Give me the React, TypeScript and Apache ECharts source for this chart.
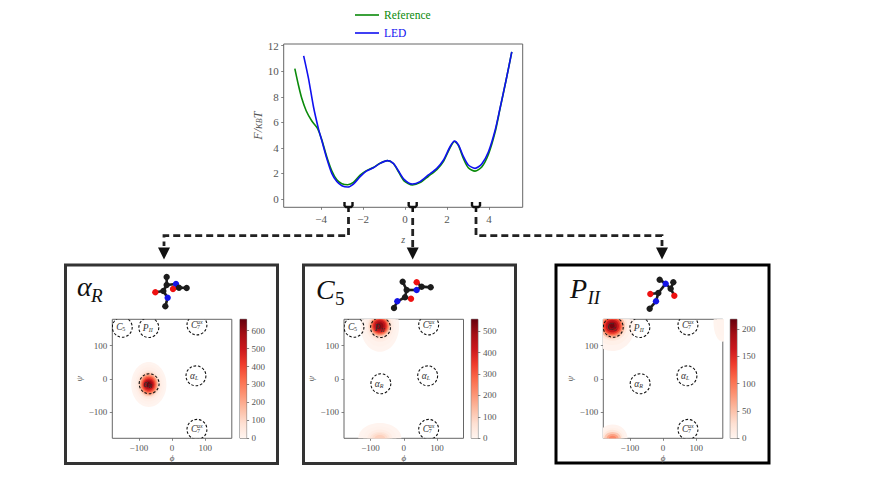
import React, { useEffect, useRef } from "react";
import * as echarts from "echarts";

// ---------- free-energy profile ----------
const referenceCurve = [
  [-5.25, 10.2], [-5.08, 8.92], [-4.92, 7.88], [-4.71, 6.91], [-4.44, 6.1], [-4.17, 5.53], [-3.97, 4.65],
  [-3.73, 3.31], [-3.49, 2.21], [-3.25, 1.5], [-3.01, 1.2], [-2.73, 1.12], [-2.46, 1.3], [-2.14, 1.87],
  [-1.86, 2.2], [-1.51, 2.47], [-1.19, 2.8], [-0.84, 3.0], [-0.56, 2.78], [-0.32, 2.15], [-0.05, 1.42],
  [0.35, 1.1], [0.71, 1.28], [1.11, 1.78], [1.51, 2.3], [1.83, 2.95], [2.14, 4.0], [2.35, 4.5],
  [2.54, 4.18], [2.78, 3.15], [3.01, 2.44], [3.33, 2.18], [3.65, 2.5], [3.97, 3.5], [4.29, 5.25],
  [4.52, 7.05], [4.81, 9.31], [5.08, 11.52],
];
const ledCurve = [
  [-4.83, 11.2], [-4.6, 9.44], [-4.36, 7.2], [-4.13, 5.53], [-3.97, 4.6], [-3.73, 3.18], [-3.49, 2.0],
  [-3.25, 1.36], [-3.01, 1.04], [-2.73, 0.94], [-2.46, 1.17], [-2.14, 1.75], [-1.86, 2.16], [-1.51, 2.45],
  [-1.19, 2.79], [-0.84, 3.0], [-0.56, 2.79], [-0.32, 2.21], [-0.05, 1.54], [0.35, 1.17], [0.71, 1.36],
  [1.11, 1.88], [1.51, 2.4], [1.83, 3.05], [2.14, 4.09], [2.35, 4.54], [2.54, 4.23], [2.78, 3.31],
  [3.01, 2.66], [3.33, 2.4], [3.65, 2.74], [3.97, 3.7], [4.29, 5.4], [4.52, 7.1], [4.81, 9.31], [5.08, 11.52],
];
const zTicks = [-4, -2, 0, 2, 4];
const fTicks = [0, 2, 4, 6, 8, 10, 12];
const angleTicks = [-100, 0, 100];

// ---------- Ramachandran densities: [value, half-width phi, half-width psi] ----------
const alphaRCenter = [-70, -17];
const alphaRLevels = [[4, 53, 68], [10, 47, 60], [22, 41, 52], [45, 36, 44], [85, 32, 39], [140, 29, 35], [220, 26, 31], [300, 23, 27], [380, 20, 23], [460, 17, 19], [540, 14, 15], [600, 10, 11], [645, 6, 7]];
const c5MainCenter = [-72, 160];
const c5MainLevels = [[3, 58, 78], [10, 50, 62], [25, 42, 48], [60, 36, 40], [110, 32, 33], [180, 29, 29], [250, 26, 26], [320, 23, 23], [390, 20, 20], [450, 16, 16], [510, 11, 11]];
const c5WrapCenter = [-72, -180];
const c5WrapLevels = [[3, 65, 46], [10, 50, 36], [25, 38, 27], [50, 30, 20], [75, 23, 15], [100, 16, 10]];
const p2MainCenter = [-153, 160];
const p2MainLevels = [[2, 68, 76], [7, 56, 58], [20, 45, 45], [50, 38, 38], [80, 33, 32], [110, 29, 28], [140, 25, 24], [170, 20, 19], [195, 14, 13], [212, 7, 7]];
const p2WrapCenter = [-152, -180];
const p2WrapLevels = [[2, 45, 42], [7, 36, 32], [20, 30, 26], [45, 25, 19], [70, 18, 13], [90, 11, 8]];
const p2EdgeCenter = [180, 170];
const p2EdgeLevels = [[1.5, 28, 58], [3, 18, 40]];

const alphaRMax = 663;
const c5Max = 556;
const p2Max = 218;
const alphaRBarTicks = [0, 100, 200, 300, 400, 500, 600];
const c5BarTicks = [0, 100, 200, 300, 400, 500];
const p2BarTicks = [0, 50, 100, 150, 200];

// basins: [phi, psi, letter, subscript, superscript]
const basins: [number, number, string, string, string][] = [
  [-150, 156, "C", "5", ""],
  [-70, 155, "P", "II", ""],
  [75, 163, "C", "7", "ax"],
  [72, 9, "α", "L", ""],
  [-69, -15, "α", "R", ""],
  [75, -153, "C", "7", "ax"],
];

// ---------- styling ----------
const SERIF = '"Liberation Serif", "DejaVu Serif", serif';
const REDS = ["#fff5f0", "#fee0d2", "#fcbba1", "#fc9272", "#fb6a4a", "#ef3b2c", "#cb181d", "#a50f15", "#67000d"];
const TICK = "#555";
const SPINE = "#666";

function hex(c: string) {
  return [1, 3, 5].map((i) => parseInt(c.slice(i, i + 2), 16));
}
function reds(t: number) {
  const p = Math.max(0, Math.min(1, t)) * (REDS.length - 1);
  const i = Math.min(REDS.length - 2, Math.floor(p));
  const a = hex(REDS[i]);
  const b = hex(REDS[i + 1]);
  const f = p - i;
  return `rgb(${a.map((v, k) => Math.round(v + (b[k] - v) * f)).join(",")})`;
}
const minus = (v: number | string) => String(v).replace("-", "\u2212");

function blobData(center: number[], levels: number[][]) {
  return levels.map((l) => [center[0], center[1], l[1], l[2], l[0]]);
}

function valueAxis(grid: number, ticks: number[] | null, min: number, max: number, extra: any = {}) {
  return {
    type: "value",
    gridIndex: grid,
    min,
    max,
    splitLine: { show: false },
    axisLine: { show: false, onZero: false },
    axisTick: ticks ? { show: true, length: 2.5, customValues: ticks, lineStyle: { color: SPINE, width: 0.8 } } : { show: false },
    axisLabel: ticks
      ? { show: true, customValues: ticks, formatter: minus, color: TICK, fontFamily: SERIF, fontSize: extra.labelSize ?? 9, margin: extra.labelMargin ?? 5 }
      : { show: false },
  };
}

const panels = [
  { left: 112.3, barLeft: 240, barMax: alphaRMax, barTicks: alphaRBarTicks, blobs: [blobData(alphaRCenter, alphaRLevels)] },
  { left: 344, barLeft: 471.3, barMax: c5Max, barTicks: c5BarTicks, blobs: [blobData(c5WrapCenter, c5WrapLevels), blobData(c5MainCenter, c5MainLevels)] },
  { left: 603.3, barLeft: 730.3, barMax: p2Max, barTicks: p2BarTicks, blobs: [blobData(p2EdgeCenter, p2EdgeLevels), blobData(p2WrapCenter, p2WrapLevels), blobData(p2MainCenter, p2MainLevels)] },
];
const HEAT_TOP = 319.3;
const HEAT_H = 119;
const HEAT_W = 119.5;
const BAR_W = 6.6;

// ---------- decoration drawn by hand: molecules, frames, connectors ----------
type Atom = [number, number, string];
const K = "#1c1c1c";
const R = "#ee1111";
const B = "#1414e6";
function molecule(ox: number, oy: number, atoms: Atom[], bonds: number[][]) {
  const p = (a: Atom) => [ox + a[0] / 3, oy + a[1] / 3];
  const children: any[] = [];
  bonds.forEach(([a, b]) => {
    const [x1, y1] = p(atoms[a]);
    const [x2, y2] = p(atoms[b]);
    children.push({ type: "line", shape: { x1, y1, x2, y2 }, style: { stroke: K, lineWidth: 2.6 } });
  });
  atoms.forEach((a) => {
    const [cx, cy] = p(a);
    children.push({ type: "circle", shape: { cx, cy, r: 3.2 }, style: { fill: a[2] } });
  });
  return { type: "group", children };
}
const molA = molecule(140, 265,
  [[80, 36, K], [80, 60, K], [70, 78, K], [46, 82, R], [83, 98, B], [76, 124, K], [108, 57, B], [117, 68, K], [99, 72, R], [140, 69, K]],
  [[0, 1], [1, 2], [2, 3], [2, 4], [4, 5], [1, 6], [6, 7], [7, 8], [7, 9]]);
const molB = molecule(380, 270,
  [[68, 35, K], [80, 60, K], [75, 82, K], [93, 86, R], [52, 94, B], [42, 114, K], [110, 60, B], [125, 50, K], [110, 37, R], [152, 52, K]],
  [[0, 1], [1, 2], [2, 3], [2, 4], [4, 5], [1, 6], [6, 7], [7, 8], [7, 9]]);
const molC = molecule(635, 268,
  [[74, 35, K], [92, 47, B], [107, 62, K], [118, 83, R], [115, 43, K], [70, 75, K], [46, 78, R], [63, 100, B], [44, 122, K]],
  [[0, 1], [1, 2], [2, 3], [2, 4], [1, 5], [5, 6], [5, 7], [7, 8]]);

function frame(x: number, y: number, w: number, h: number, color: string, lw: number) {
  return { type: "rect", shape: { x, y, width: w, height: h }, style: { fill: "none", stroke: color, lineWidth: lw } };
}
function brace(cx: number) {
  return [
    { type: "polyline", shape: { points: [[cx - 4, 202], [cx - 4, 205.5], [cx - 2.5, 207], [cx + 2.5, 207], [cx + 4, 205.5], [cx + 4, 202]] }, style: { fill: "none", stroke: "#111", lineWidth: 2.4 } },
    { type: "line", shape: { x1: cx, y1: 207, x2: cx, y2: 212 }, style: { stroke: "#111", lineWidth: 2.6 } },
  ];
}
function dash(points: number[][]) {
  return { type: "polyline", shape: { points }, style: { fill: "none", stroke: "#222", lineWidth: 2.8, lineDash: [7, 4] } };
}
function arrow(cx: number) {
  return { type: "polygon", shape: { points: [[cx - 6, 247.5], [cx + 6, 247.5], [cx, 259.5]] }, style: { fill: "#111" } };
}
function title(x: number, y: number, main: string, sub: string, subX: number) {
  return [
    { type: "text", x, y, style: { text: main, font: `italic 28px ${SERIF}`, fill: "#111" } },
    { type: "text", x: subX, y: y + 13.5, style: { text: sub, font: `${/\d/.test(sub) ? "" : "italic "}19px ${SERIF}`, fill: "#111" } },
  ];
}

const graphicElements: any[] = [
  frame(65.5, 265, 212, 198.5, "#333", 3),
  frame(303.5, 265, 212, 198.5, "#333", 3),
  frame(556, 265, 213, 198, "#000", 3),
  molA, molB, molC,
  ...title(77, 272, "α", "R", 91),
  ...title(316, 275, "C", "5", 335),
  ...title(570, 274, "P", "II", 587.5),
  ...brace(348.5), ...brace(412.7), ...brace(476),
  dash([[348.5, 217], [348.5, 235.7], [164, 235.7], [164, 246]]),
  dash([[412.7, 218], [412.7, 248]]),
  dash([[476, 217], [476, 235.7], [662, 235.7], [662, 246]]),
  arrow(164), arrow(412.7), arrow(662),
];

// ---------- custom series renderers ----------
function renderBlob(max: number) {
  return (_p: any, api: any) => {
    const c = api.coord([api.value(0), api.value(1)]);
    const e = api.coord([api.value(0) + api.value(2), api.value(1) - api.value(3)]);
    return {
      type: "ellipse",
      shape: { cx: c[0], cy: c[1], rx: Math.abs(e[0] - c[0]), ry: Math.abs(e[1] - c[1]) },
      style: { fill: reds(api.value(4) / max) },
    };
  };
}
function renderBasin(params: any, api: any) {
  const b = basins[params.dataIndex];
  const c = api.coord([b[0], b[1]]);
  const r = Math.abs(api.coord([b[0] + 30, b[1]])[0] - c[0]);
  const mw = b[2] === "α" ? 5 : 6;
  const plain = b[3] === "5" || b[3] === "7";
  const children: any[] = [
    { type: "circle", shape: { cx: c[0], cy: c[1], r }, style: { fill: "none", stroke: "#111", lineWidth: 1.1, lineDash: [2.6, 1.8] } },
    { type: "text", x: c[0] - 6, y: c[1], style: { text: b[2], font: `italic 9.5px ${SERIF}`, fill: "#333", verticalAlign: "middle" } },
    { type: "text", x: c[0] - 6 + mw, y: c[1] + 2, style: { text: b[3], font: `${plain ? "" : "italic "}6px ${SERIF}`, fill: "#333", verticalAlign: "middle" } },
  ];
  if (b[4]) children.push({ type: "text", x: c[0] - 6 + mw, y: c[1] - 3, style: { text: b[4], font: `italic 6px ${SERIF}`, fill: "#333", verticalAlign: "middle" } });
  return { type: "group", children };
}
function renderBar(_p: any, api: any) {
  const a = api.coord([0, api.value(0)]);
  const b = api.coord([1, api.value(1)]);
  return {
    type: "rect",
    shape: { x: a[0], y: b[1], width: b[0] - a[0], height: a[1] - b[1] },
    style: {
      fill: {
        type: "linear", x: 0, y: 1, x2: 0, y2: 0,
        colorStops: REDS.map((color, i) => ({ offset: i / (REDS.length - 1), color })),
      },
    },
  };
}

function buildOption() {
  const grids: any[] = [
    { left: 283.7, top: 44, width: 239, height: 163.3, show: true, borderColor: SPINE, borderWidth: 1, backgroundColor: "transparent" },
  ];
  const xAxes: any[] = [
    {
      ...valueAxis(0, zTicks, -5.78, 5.6, { labelSize: 11, labelMargin: 6 }),
      name: "z",
      nameLocation: "middle",
      nameGap: 27,
      nameTextStyle: { color: TICK, fontFamily: SERIF, fontStyle: "italic", fontSize: 10 },
    },
  ];
  const yAxes: any[] = [
    {
      ...valueAxis(0, fTicks, -0.65, 12.13, { labelSize: 11, labelMargin: 5 }),
      name: "{a|F/κ}{b|B}{a|T}",
      nameLocation: "middle",
      nameGap: 19,
      nameRotate: 90,
      nameTextStyle: {
        rich: {
          a: { fontFamily: SERIF, fontStyle: "italic", fontSize: 12, color: TICK },
          b: { fontFamily: SERIF, fontStyle: "italic", fontSize: 8, color: TICK, verticalAlign: "bottom" },
        },
      },
    },
  ];
  const series: any[] = [
    { name: "Reference", type: "line", xAxisIndex: 0, yAxisIndex: 0, data: referenceCurve, showSymbol: false, smooth: 0.25, lineStyle: { color: "#0a8a0a", width: 1.6 }, itemStyle: { color: "#0a8a0a" } },
    { name: "LED", type: "line", xAxisIndex: 0, yAxisIndex: 0, data: ledCurve, showSymbol: false, smooth: 0.25, lineStyle: { color: "#1010f0", width: 1.6 }, itemStyle: { color: "#1010f0" } },
  ];

  panels.forEach((p) => {
    const g = grids.length;
    grids.push({ left: p.left, top: HEAT_TOP, width: HEAT_W, height: HEAT_H, show: true, borderColor: SPINE, borderWidth: 1, backgroundColor: "transparent" });
    xAxes.push({
      ...valueAxis(g, angleTicks, -180, 180),
      name: "ϕ",
      nameLocation: "middle",
      nameGap: 15,
      nameTextStyle: { color: TICK, fontFamily: SERIF, fontStyle: "italic", fontSize: 9 },
    });
    yAxes.push({
      ...valueAxis(g, angleTicks, -180, 180),
      name: "ψ",
      nameLocation: "middle",
      nameGap: 29,
      nameRotate: 90,
      nameTextStyle: { color: TICK, fontFamily: SERIF, fontStyle: "italic", fontSize: 9 },
    });
    p.blobs.forEach((data) => {
      series.push({ type: "custom", xAxisIndex: g, yAxisIndex: g, clip: true, data, renderItem: renderBlob(p.barMax), silent: true });
    });
    series.push({ type: "custom", xAxisIndex: g, yAxisIndex: g, clip: true, data: basins.map((b) => [b[0], b[1]]), renderItem: renderBasin, silent: true, z: 5 });

    const h = grids.length;
    grids.push({ left: p.barLeft, top: HEAT_TOP, width: BAR_W, height: HEAT_H, show: true, borderColor: SPINE, borderWidth: 1, backgroundColor: "transparent" });
    xAxes.push(valueAxis(h, null, 0, 1));
    yAxes.push({ ...valueAxis(h, p.barTicks, 0, p.barMax, { labelSize: 9, labelMargin: 5 }), position: "right" });
    series.push({ type: "custom", xAxisIndex: h, yAxisIndex: h, data: [[0, p.barMax]], renderItem: renderBar, silent: true });
  });

  return {
    animation: false,
    backgroundColor: "#fff",
    textStyle: { fontFamily: SERIF },
    legend: {
      left: 350,
      top: 4,
      orient: "vertical",
      itemWidth: 24,
      itemHeight: 10,
      itemGap: 6,
      icon: "path://M0 4.2H24V5.8H0Z",
      textStyle: { fontFamily: SERIF, fontSize: 11.5 },
      data: [
        { name: "Reference", textStyle: { color: "#0a8a0a" } },
        { name: "LED", textStyle: { color: "#1010f0" } },
      ],
    },
    grid: grids,
    xAxis: xAxes,
    yAxis: yAxes,
    series,
    graphic: { elements: graphicElements },
  };
}

export default function App() {
  const ref = useRef<HTMLDivElement>(null);
  useEffect(() => {
    document.body.style.margin = "0";
    const chart = echarts.init(ref.current!, undefined, { renderer: "svg" });
    chart.setOption(buildOption() as any);
    return () => chart.dispose();
  }, []);
  return <div ref={ref} style={{ position: "absolute", left: 0, top: 0, width: 872, height: 491 }} />;
}
